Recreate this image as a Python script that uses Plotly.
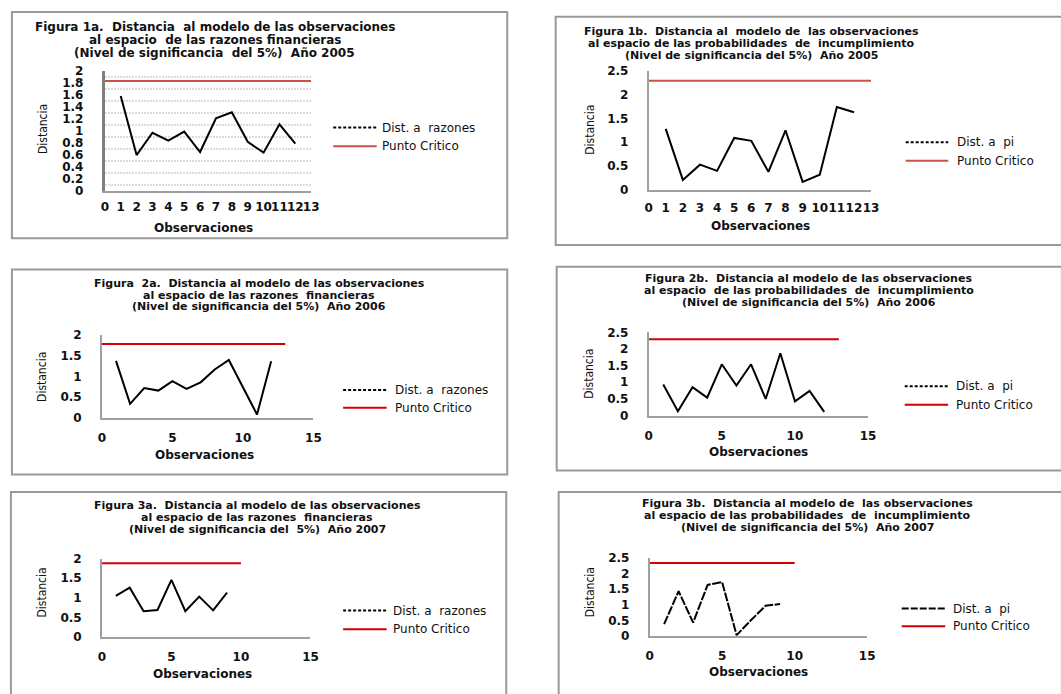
import plotly.graph_objects as go

W, H = 1061, 694

# ---- data -----------------------------------------------------------------
obs_2005 = list(range(1, 13))
obs_2006 = list(range(1, 13))
obs_2007 = list(range(1, 10))

dist_razones_2005 = [1.58, 0.60, 0.97, 0.84, 0.99, 0.65, 1.21, 1.31, 0.82, 0.64, 1.11, 0.79]
dist_pi_2005 = [1.28, 0.21, 0.53, 0.40, 1.09, 1.03, 0.38, 1.25, 0.17, 0.32, 1.74, 1.63]
dist_razones_2006 = [1.38, 0.34, 0.72, 0.66, 0.89, 0.70, 0.86, 1.17, 1.40, 0.75, 0.08, 1.37]
dist_pi_2006 = [0.93, 0.13, 0.85, 0.54, 1.54, 0.90, 1.54, 0.50, 1.87, 0.43, 0.74, 0.11]
dist_razones_2007 = [1.05, 1.26, 0.66, 0.69, 1.46, 0.66, 1.03, 0.68, 1.13]
dist_pi_2007 = [0.38, 1.43, 0.43, 1.63, 1.72, 0.03, 0.51, 0.97, 1.02]

critico_razones_2005 = 1.83
critico_pi_2005 = 2.29
critico_razones_2006 = 1.79
critico_pi_2006 = 2.29
critico_razones_2007 = 1.88
critico_pi_2007 = 2.33

titulos_1a = ["Figura 1a.  Distancia  al modelo de las observaciones",
              "al espacio  de las razones financieras",
              "(Nivel de significancia  del 5%)  Año 2005"]
titulos_1b = ["Figura 1b.  Distancia al  modelo de  las observaciones",
              "al espacio de las probabilidades  de  incumplimiento",
              "(Nivel de significancia del 5%)  Año 2005"]
titulos_2a = ["Figura  2a.  Distancia al modelo de las observaciones",
              "al espacio de las razones  financieras",
              "(Nivel de significancia del 5%)  Año 2006"]
titulos_2b = ["Figura 2b.  Distancia al modelo de las observaciones",
              "al espacio  de las probabilidades  de  incumplimiento",
              "(Nivel de significancia del 5%)  Año 2006"]
titulos_3a = ["Figura 3a.  Distancia al modelo de las observaciones",
              "al espacio de las razones  financieras",
              "(Nivel de significancia del  5%)  Año 2007"]
titulos_3b = ["Figura 3b.  Distancia al modelo de  las observaciones",
              "al espacio de las probabilidades  de  incumplimiento",
              "(Nivel de significancia del 5%)  Año 2007"]

serie_razones = "Dist. a  razones"
serie_pi = "Dist. a  pi"
serie_critico = "Punto Critico"
titulo_x = "Observaciones"
titulo_y = "Distancia"

# ---- layout of each panel (pixel geometry) --------------------------------
RED_SOFT = "#c8504d"
RED = "#d00000"

panels = [
    dict(x=obs_2005, y=dist_razones_2005, crit=critico_razones_2005, name=serie_razones,
         titles=titulos_1a, tsize=12, tx=213, ty=[20.5, 33.5, 46.5],
         box=(8, 5, 509, 236), plot=(102, 310.7, 65, 188),
         xr=[0, 13], xd=1, yr=[0, 2], yd=0.2, grid=True, xoff=4,
         ytx=40, yty=125, xtx=202, xty=226,
         lg=(333, 377, 380, 123, 142), red=RED_SOFT, dash="solid", ldash="3px,2px"),
    dict(x=obs_2005, y=dist_pi_2005, crit=critico_pi_2005, name=serie_pi,
         titles=titulos_1b, tsize=11, tx=756, ty=[25.5, 37.5, 49.5],
         box=(558, 10, 1070, 243), plot=(652, 877, 65, 186.7),
         xr=[0, 13], xd=1, yr=[0, 2.5], yd=0.5, grid=False, xoff=6,
         ytx=593, yty=125, xtx=765, xty=224,
         lg=(912, 955, 962, 138, 157), red=RED_SOFT, dash="solid", ldash="3px,2px"),
    dict(x=obs_2006, y=dist_razones_2006, crit=critico_razones_2006, name=serie_razones,
         titles=titulos_2a, tsize=11, tx=258, ty=[282, 294, 306],
         box=(8, 268, 509, 477), plot=(99, 313, 335, 419.3),
         xr=[0, 15], xd=5, yr=[0, 2], yd=0.5, grid=False, xoff=8,
         ytx=39, yty=378, xtx=203, xty=457,
         lg=(343, 387, 393, 391, 409), red=RED, dash="solid", ldash="3px,2px"),
    dict(x=obs_2006, y=dist_pi_2006, crit=critico_pi_2006, name=serie_pi,
         titles=titulos_2b, tsize=11, tx=814, ty=[277, 289.5, 302],
         box=(559, 265, 1070, 473), plot=(652, 874, 332, 417),
         xr=[0, 15], xd=5, yr=[0, 2.5], yd=0.5, grid=False, xoff=8,
         ytx=592, yty=374, xtx=763, xty=454,
         lg=(911, 955, 961, 387, 406), red=RED, dash="solid", ldash="3px,2px"),
    dict(x=obs_2007, y=dist_razones_2007, crit=critico_razones_2007, name=serie_razones,
         titles=titulos_3a, tsize=11, tx=256, ty=[508.5, 521, 533.5],
         box=(7, 495, 508, 705), plot=(99, 310, 563, 643),
         xr=[0, 15], xd=5, yr=[0, 2], yd=0.5, grid=False, xoff=8,
         ytx=38, yty=598, xtx=201, xty=681,
         lg=(343, 387, 391, 616, 635), red=RED, dash="solid", ldash="3px,2px"),
    dict(x=obs_2007, y=dist_pi_2007, crit=critico_pi_2007, name=serie_pi,
         titles=titulos_3b, tsize=11, tx=813, ty=[507, 519, 531],
         box=(561, 495, 1070, 705), plot=(653, 873, 562, 642),
         xr=[0, 15], xd=5, yr=[0, 2.5], yd=0.5, grid=False, xoff=8,
         ytx=593, yty=597, xtx=763, xty=679,
         lg=(908, 952, 958, 614, 632), red=RED, dash="9px,1.5px", ldash="7px,2px"),
]


def px(v):
    return v / W


def py(v):
    return 1 - v / H


TEXT = "#111111"
FONT = "DejaVu Sans"
NARROW = "Liberation Sans Narrow, DejaVu Sans Condensed, Arial Narrow, sans-serif"

fig = go.Figure()
layout = dict(
    width=W, height=H, margin=dict(l=0, r=0, t=0, b=0),
    paper_bgcolor="white", plot_bgcolor="white", showlegend=False,
    font=dict(family=FONT, color=TEXT),
)
shapes, annotations = [], []

for i, p in enumerate(panels, start=1):
    sfx = "" if i == 1 else str(i)
    xa, ya = "x" + sfx, "y" + sfx

    n = len(p["x"])
    crit_x = list(range(0, n + 2))
    fig.add_trace(go.Scatter(x=p["x"], y=p["y"], mode="lines", name=p["name"],
                             line=dict(color="black", width=2, dash=p["dash"]),
                             xaxis=xa, yaxis=ya))
    fig.add_trace(go.Scatter(x=crit_x, y=[p["crit"]] * len(crit_x), mode="lines",
                             name=serie_critico, line=dict(color=p["red"], width=2),
                             xaxis=xa, yaxis=ya))

    x0, x1, y0, y1 = p["plot"]
    y_line = dict(color="#808080", width=3) if i == 1 else dict(color="#a0a0a0", width=1.5)
    layout["xaxis" + sfx] = dict(
        domain=[px(x0), px(x1)], range=p["xr"], anchor=ya,
        tickmode="linear", tick0=0, dtick=p["xd"], ticks="", tickangle=0,
        showgrid=False, zeroline=False, showline=True,
        linecolor="#a0a0a0", linewidth=1.5,
        tickfont=dict(family=FONT, size=12, color=TEXT, weight="bold"),
        ticklabelstandoff=p["xoff"],
    )
    yax = dict(
        domain=[py(y1), py(y0)], range=p["yr"], anchor=xa,
        tickmode="linear", tick0=0, dtick=p["yd"], ticks="",
        showgrid=False, zeroline=False, showline=True,
        linecolor=y_line["color"], linewidth=y_line["width"],
        tickfont=dict(family=FONT, size=12, color=TEXT, weight="bold"),
        ticklabelstandoff=16,
    )
    if p["grid"]:
        yax["minor"] = dict(tickmode="linear", tick0=0.1, dtick=0.2, showgrid=True,
                            gridcolor="#dcdcdc", gridwidth=2, griddash="2px,1px", ticks="")
    layout["yaxis" + sfx] = yax

    # panel frame
    bl, bt, br, bb = p["box"]
    shapes.append(dict(type="rect", xref="paper", yref="paper",
                       x0=px(bl), x1=px(br), y0=py(bb), y1=py(bt),
                       line=dict(color="#9a9a9a", width=2), layer="below"))

    # title lines
    for txt, ty in zip(p["titles"], p["ty"]):
        annotations.append(dict(text="<b>" + txt + "</b>", x=px(p["tx"]), y=py(ty),
                                xref="paper", yref="paper", xanchor="center", yanchor="middle",
                                showarrow=False, font=dict(family=FONT, size=p["tsize"], color=TEXT)))

    # axis titles
    annotations.append(dict(text="<b>" + titulo_x + "</b>", x=px(p["xtx"]), y=py(p["xty"]),
                            xref="paper", yref="paper", xanchor="center", yanchor="middle",
                            showarrow=False, font=dict(family=FONT, size=12, color=TEXT)))
    annotations.append(dict(text=titulo_y, x=px(p["ytx"]), y=py(p["yty"]),
                            xref="paper", yref="paper", xanchor="center", yanchor="middle",
                            textangle=-90, showarrow=False,
                            font=dict(family=NARROW, size=12, color=TEXT)))

    # legend keys
    sx0, sx1, tx, ly1, ly2 = p["lg"]
    shapes.append(dict(type="line", xref="paper", yref="paper",
                       x0=px(sx0), x1=px(sx1), y0=py(ly1), y1=py(ly1),
                       line=dict(color="black", width=2, dash=p["ldash"])))
    shapes.append(dict(type="line", xref="paper", yref="paper",
                       x0=px(sx0), x1=px(sx1), y0=py(ly2), y1=py(ly2),
                       line=dict(color=p["red"], width=2)))
    for txt, ly in ((p["name"], ly1), (serie_critico, ly2)):
        annotations.append(dict(text=txt, x=px(tx), y=py(ly), xref="paper", yref="paper",
                                xanchor="left", yanchor="middle", showarrow=False,
                                font=dict(family=FONT, size=12, color=TEXT)))

layout["shapes"] = shapes
layout["annotations"] = annotations
fig.update_layout(**layout)
fig.write_html("out.html")
